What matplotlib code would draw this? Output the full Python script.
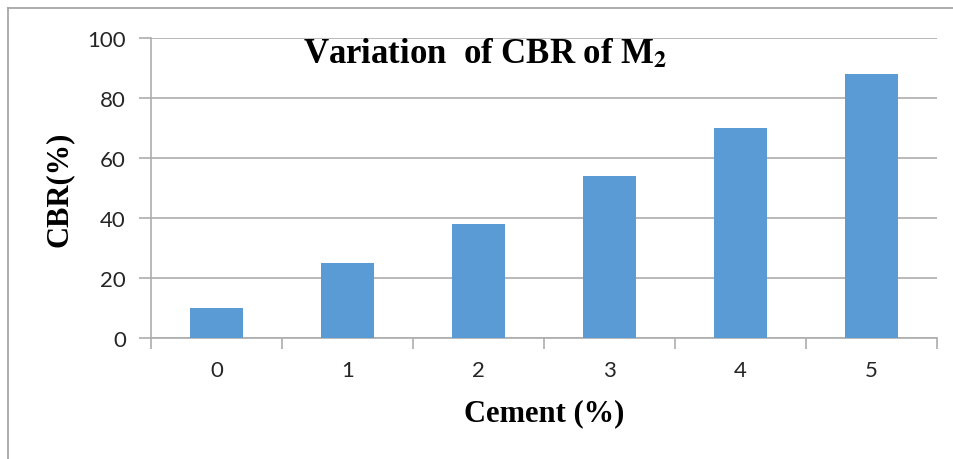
import matplotlib
matplotlib.use("Agg")
import matplotlib.pyplot as plt
from matplotlib.lines import Line2D

# data
cement = ["0", "1", "2", "3", "4", "5"]
cbr = [10, 25, 38, 54, 70, 88]
y_ticks = [0, 20, 40, 60, 80, 100]

plt.rcParams["mathtext.fontset"] = "stix"
grid_col = "#ADADAD"
bar_col = "#5B9BD5"

fig = plt.figure(figsize=(9.54, 4.6), dpi=100)
ax = fig.add_axes([151 / 954, 121 / 460, 786 / 954, 300 / 460])

x = range(len(cement))
ax.bar(x, cbr, width=0.4, color=bar_col, zorder=3)

ax.set_xlim(-0.5, len(cement) - 0.5)
ax.set_ylim(0, 100)
ax.set_yticks(y_ticks)
ax.set_xticks(list(x))
ax.set_xticklabels(cement)
ax.set_xticks([i - 0.5 for i in range(len(cement) + 1)], minor=True)

ax.grid(axis="y", color=grid_col, linewidth=1.2, zorder=0)
for side in ["top", "right"]:
    ax.spines[side].set_visible(False)
for side in ["left", "bottom"]:
    ax.spines[side].set_color(grid_col)
    ax.spines[side].set_linewidth(1.2)

ax.tick_params(axis="y", direction="out", length=9, width=1.2, color=grid_col,
               labelsize=16, labelcolor="#262626", pad=9)
ax.tick_params(axis="x", which="major", length=0, labelsize=16,
               labelcolor="#262626", pad=16)
ax.tick_params(axis="x", which="minor", direction="out", length=8, width=1.2,
               color=grid_col)
for lab in ax.get_xticklabels() + ax.get_yticklabels():
    lab.set_family("Lato")

ax.set_ylabel("CBR(%)", family="Liberation Serif", fontweight="bold",
              fontsize=22, labelpad=10)
ax.set_xlabel("Cement (%)", family="Liberation Serif", fontweight="bold",
              fontsize=22, labelpad=13)

ax.text(0.425, 0.95, r"Variation  of CBR of M$_\mathbf{2}$", transform=ax.transAxes,
        ha="center", va="center", family="Liberation Serif", fontweight="bold",
        fontsize=25)

# chart frame (left and top edges visible)
fig.add_artist(Line2D([8 / 954, 8 / 954], [0, 1 - 9 / 460], color="#A0A0A0",
                      linewidth=1.2, transform=fig.transFigure))
fig.add_artist(Line2D([8 / 954, 1], [1 - 9 / 460, 1 - 9 / 460], color="#A0A0A0",
                      linewidth=1.2, transform=fig.transFigure))

fig.savefig("out.png", dpi=100)
